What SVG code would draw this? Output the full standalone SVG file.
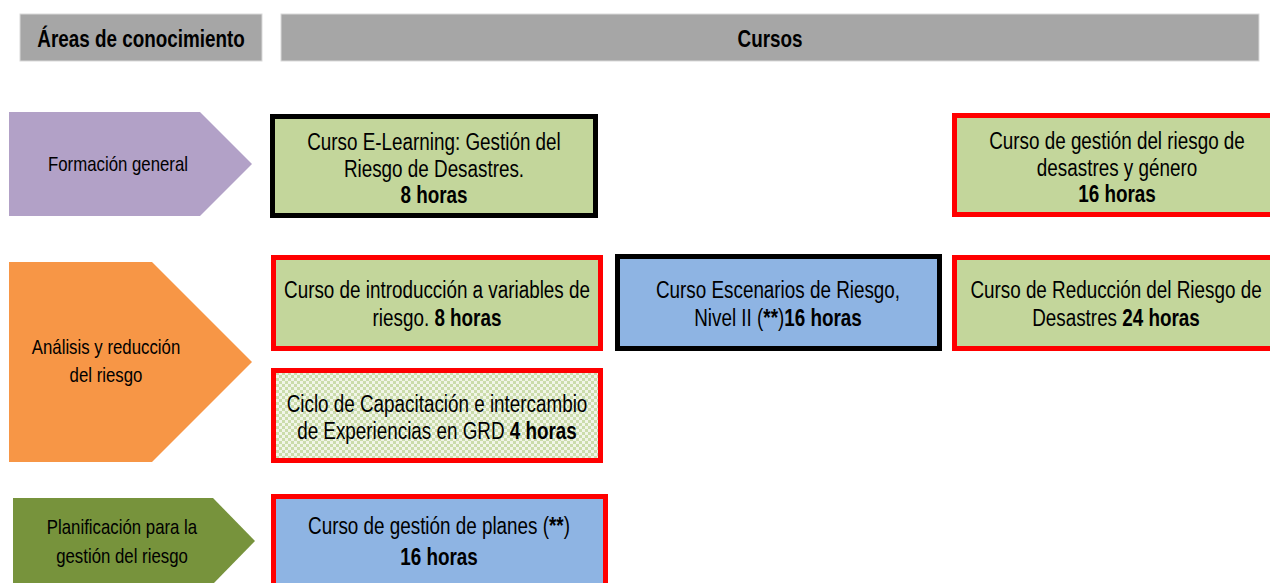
<svg xmlns="http://www.w3.org/2000/svg" width="1270" height="583" viewBox="0 0 1270 583">
<style>
text{font-family:"Liberation Sans Narrow","Arial Narrow","Liberation Sans",sans-serif;fill:#000;text-anchor:middle}
.hd{font-size:23px;font-weight:bold}
.ar{font-size:20.5px}
.bx{font-size:23px}
.b{font-weight:bold}
.hdr{fill:#a6a6a6;stroke:#d9d9d9;stroke-width:1}
.red{stroke:#ff0000;stroke-width:5}
.blk{stroke:#000;stroke-width:5}
.grn{fill:#c3d69b}
.blu{fill:#8eb4e3}
</style>
<defs>
<pattern id="chk" width="6" height="6" patternUnits="userSpaceOnUse">
<rect width="6" height="6" fill="#f1f5e8"/>
<rect width="3" height="3" fill="#cbdcab"/>
<rect x="3" y="3" width="3" height="3" fill="#cbdcab"/>
</pattern>
</defs>
<g id="hdr-areas"><rect class="hdr" x="20" y="14" width="242" height="47"/><text class="hd" transform="translate(141 0) scale(0.82 1)" y="47">Áreas de conocimiento</text></g>
<g id="hdr-cursos"><rect class="hdr" x="281" y="14" width="978" height="47"/><text class="hd" transform="translate(770 0) scale(0.82 1)" y="47">Cursos</text></g>

<g id="area-formacion"><polygon points="9,112 200,112 252,164 200,216 9,216" fill="#b2a1c7"/><text class="ar" transform="translate(118 0) scale(0.82 1)" y="171">Formación general</text></g>
<g id="area-analisis"><polygon points="9,262 152,262 252,362 152,462 9,462" fill="#f79646"/><text class="ar" transform="translate(106 0) scale(0.82 1)" y="354">Análisis y reducción</text><text class="ar" transform="translate(106 0) scale(0.82 1)" y="382">del riesgo</text></g>
<g id="area-planificacion"><polygon points="13,498 213,498 255,541 213,584 13,584" fill="#77933c"/><text class="ar" transform="translate(122 0) scale(0.82 1)" y="534">Planificación para la</text><text class="ar" transform="translate(122 0) scale(0.82 1)" y="563">gestión del riesgo</text></g>

<g id="c-elearning"><rect class="grn blk" x="272.5" y="116.5" width="323" height="99"/><text class="bx" transform="translate(434 0) scale(0.82 1)" y="150">Curso E-Learning: Gestión del</text><text class="bx" transform="translate(434 0) scale(0.82 1)" y="177">Riesgo de Desastres.</text><text class="bx b" transform="translate(434 0) scale(0.82 1)" y="203">8 horas</text></g>
<g id="c-genero"><rect class="grn red" x="954.5" y="115.5" width="320" height="99"/><text class="bx" transform="translate(1117 0) scale(0.82 1)" y="149">Curso de gestión del riesgo de</text><text class="bx" transform="translate(1117 0) scale(0.82 1)" y="176">desastres y género</text><text class="bx b" transform="translate(1117 0) scale(0.82 1)" y="202">16 horas</text></g>
<g id="c-intro"><rect class="grn red" x="273.5" y="257.5" width="327" height="91"/><text class="bx" transform="translate(437 0) scale(0.82 1)" y="298">Curso de introducción a variables de</text><text class="bx" transform="translate(437 0) scale(0.82 1)" y="326">riesgo. <tspan class="b">8 horas</tspan></text></g>
<g id="c-escenarios"><rect class="blu blk" x="617.5" y="256.5" width="322" height="92"/><text class="bx" transform="translate(778 0) scale(0.82 1)" y="298">Curso Escenarios de Riesgo,</text><text class="bx" transform="translate(778 0) scale(0.82 1)" y="326">Nivel II (<tspan class="b">**</tspan>)<tspan class="b">16 horas</tspan></text></g>
<g id="c-reduccion"><rect class="grn red" x="954.5" y="257.5" width="320" height="91"/><text class="bx" transform="translate(1116 0) scale(0.82 1)" y="298">Curso de Reducción del Riesgo de</text><text class="bx" transform="translate(1116 0) scale(0.82 1)" y="326">Desastres <tspan class="b">24 horas</tspan></text></g>
<g id="c-ciclo"><rect class="red" fill="url(#chk)" x="273.5" y="370.5" width="327" height="90"/><text class="bx" transform="translate(437 0) scale(0.82 1)" y="412">Ciclo de Capacitación e intercambio</text><text class="bx" transform="translate(437 0) scale(0.82 1)" y="439">de Experiencias en GRD <tspan class="b">4 horas</tspan></text></g>
<g id="c-planes"><rect class="blu red" x="273.5" y="496.5" width="332" height="92"/><text class="bx" transform="translate(439 0) scale(0.82 1)" y="534">Curso de gestión de planes (<tspan class="b">**</tspan>)</text><text class="bx b" transform="translate(439 0) scale(0.82 1)" y="565">16 horas</text></g>
<g id="connectors"/>
</svg>
